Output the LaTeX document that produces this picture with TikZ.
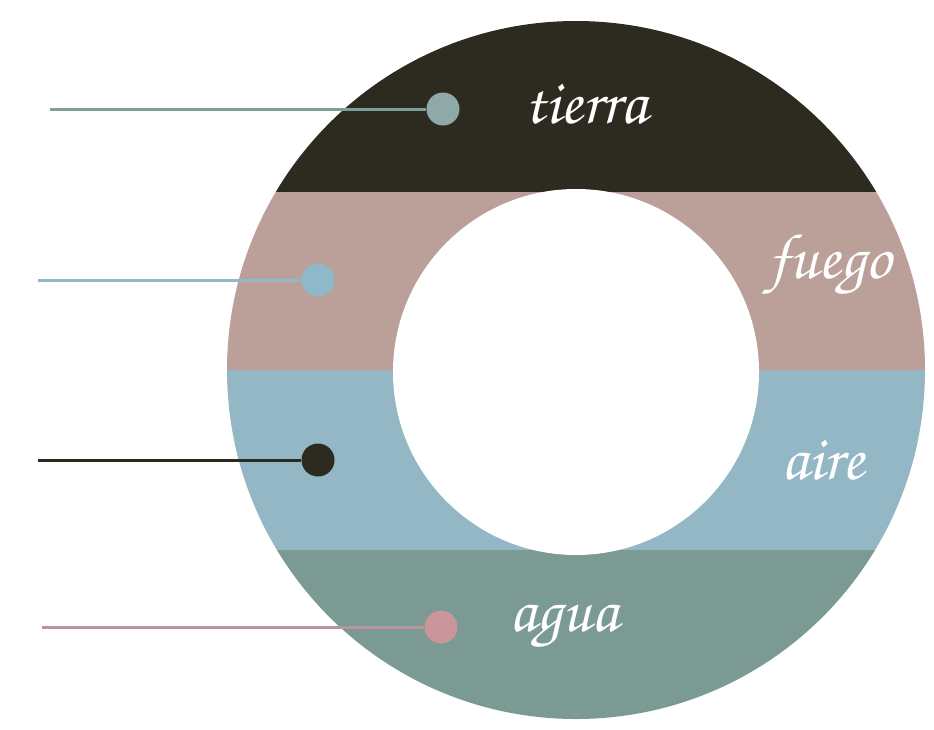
\documentclass[tikz,border=0pt]{standalone}
\definecolor{tierraC}{HTML}{2D2A20}
\definecolor{fuegoC}{HTML}{BBA09A}
\definecolor{aireC}{HTML}{93B7C5}
\definecolor{aguaC}{HTML}{7B9A94}
\definecolor{dotA}{HTML}{8FA8A8}
\definecolor{dotB}{HTML}{8FB8C8}
\definecolor{dotD}{HTML}{C9959A}
\definecolor{lineA}{HTML}{7F9E9A}
\definecolor{lineD}{HTML}{B8959A}
\newcommand{\scriptlbl}{\fontencoding{T1}\fontfamily{pzc}\fontseries{mb}\fontshape{it}\fontsize{64}{68}\selectfont}
\tikzset{
  dotnode/.style={circle, inner sep=0pt, minimum size=33pt},
  leader/.style={line width=3pt},
  lbl/.style={text=white, font=\scriptlbl, inner sep=0pt}
}
\begin{document}
\begin{tikzpicture}[x=1pt,y=-1pt]
\useasboundingbox (0,0) rectangle (934,729);
\fill[white] (0,0) rectangle (934,729);
\begin{scope}
\clip (576,370) circle[radius=349];
\fill[tierraC] (200,0) rectangle (950,192);
\fill[fuegoC] (200,192) rectangle (950,370);
\fill[aireC] (200,370) rectangle (950,550);
\fill[aguaC] (200,550) rectangle (950,729);
\end{scope}
\fill[white] (576,372) circle[radius=183];
% labels
\node[lbl] (t) at (586,104) {tierra};
\node[lbl] (f) at (830,266) {fuego};
\node[lbl] (a) at (823,460) {aire};
\node[lbl] (w) at (564,628) {agua};
% dots
\node[dotnode, fill=dotA] (d1) at (443,109) {};
\node[dotnode, fill=dotB] (d2) at (318,280) {};
\node[dotnode, fill=tierraC] (d3) at (318,460) {};
\node[dotnode, fill=dotD] (d4) at (441,627) {};
\coordinate (s1) at (50,109);
\coordinate (s2) at (38,280);
\coordinate (s3) at (38,460);
\coordinate (s4) at (42,627);
\draw[leader, lineA] (s1) -- (d1.west);
\draw[leader, aireC] (s2) -- (d2.west);
\draw[leader, tierraC] (s3) -- (d3.west);
\draw[leader, lineD] (s4) -- (d4.west);
\end{tikzpicture}
\end{document}
